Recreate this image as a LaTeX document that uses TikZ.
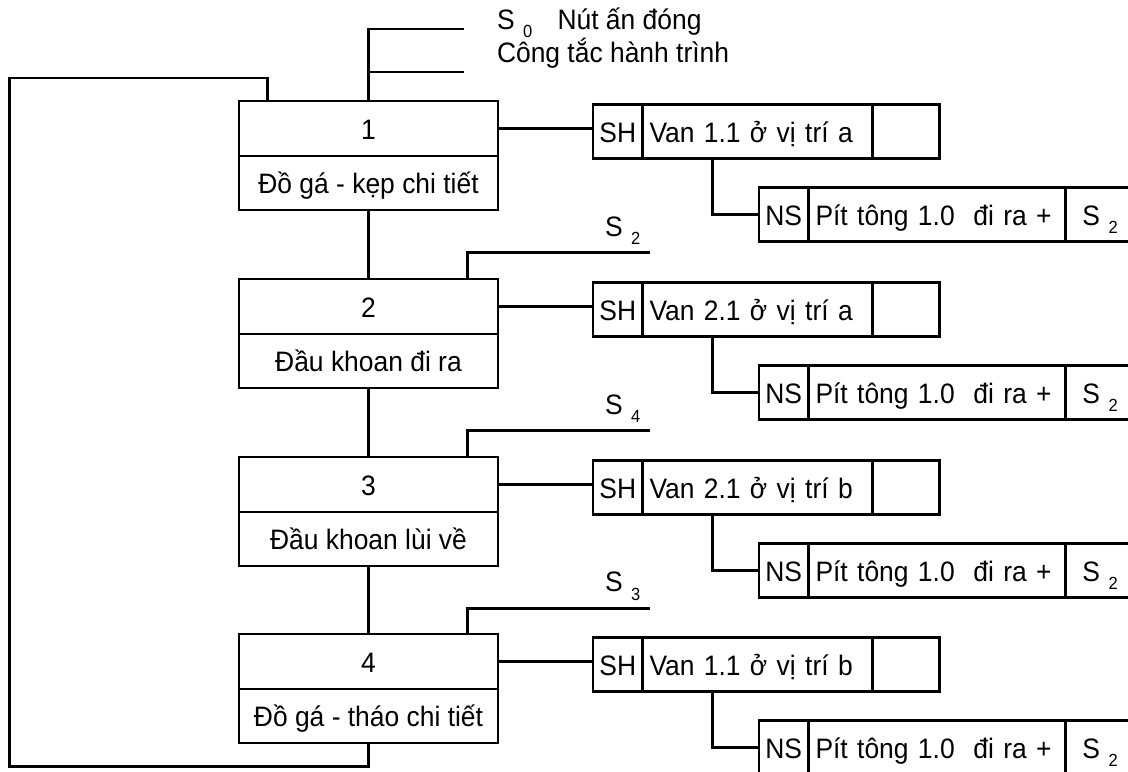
\documentclass[tikz,border=0pt]{standalone}
\usepackage{fontspec}
\setmainfont{Liberation Sans}[FakeStretch=0.94]
\usetikzlibrary{positioning}
\newcommand{\sens}[1]{S\kern0.3em\raisebox{-0.6ex}[0pt][0pt]{\fontsize{10}{11}\selectfont #1}}

\begin{document}
\begin{tikzpicture}[
  x=0.02cm, y=-0.02cm,
  font=\fontsize{16}{18}\selectfont,
  every node/.style={text height=13pt, text depth=1pt, outer sep=0pt},
  wire/.style={line width=1.3pt},
  loopwire/.style={line width=1.7pt},
  numbox/.style={draw, line width=1.6pt, minimum width=5.18cm, minimum height=1.1cm, inner sep=0, anchor=north},
  namebox/.style={draw, line width=1.6pt, minimum width=5.18cm, minimum height=1.08cm, inner sep=0, anchor=north},
  tagcell/.style={draw, line width=1.4pt, minimum width=0.99cm, minimum height=1.08cm, inner sep=0},
  actcell/.style={draw, line width=1.4pt, minimum height=1.08cm, text width=#1, inner xsep=0.14cm, inner ysep=0, align=left},
  endcell/.style={draw, line width=1.4pt, minimum width=#1, minimum height=1.08cm, inner sep=0},
  senslabel/.style={anchor=base west, inner sep=0}
]
  \useasboundingbox (0,0) rectangle (1128,771);
  \clip (0,0) rectangle (1128,771);

  % Step 1
  \node[numbox] (s1) at (368.5,101) {1};
  \node[namebox, below=0pt of s1] (d1) {Đồ gá - kẹp chi tiết};
  \node[tagcell, anchor=west] (sh1) at (593,131.5) {SH};
  \node[actcell=4.32cm, right=0pt of sh1] (v1) {Van 1.1 ở vị trí a};
  \node[endcell=1.34cm, right=0pt of v1] (e1) {};
  \node[tagcell, anchor=west] (ns1) at (759,214.5) {NS};
  \node[actcell=4.86cm, right=0pt of ns1] (p1) {Pít tông 1.0\ \ đi ra +};
  \node[actcell=1cm, inner xsep=0.34cm, right=0pt of p1] (r1) {\sens{2}};
  \draw[wire] (s1.east) -- (sh1.west |- s1.east);
  \draw[wire] ([xshift=1.4cm]v1.south west) |- (ns1.west);
  \coordinate (k0) at (464,29);
  \coordinate (k1) at (464,72);
  \draw[wire] (s1.north) |- (k0);
  \draw[wire] (s1.north |- k1) -- (k1);
  \node[senslabel] (l0) at (497,29) {\sens{0}\hspace{0.9em}Nút ấn đóng};
  \node[senslabel] (l1) at (497,62) {Công tắc hành trình};

  % Step 2
  \node[numbox] (s2) at (368.5,279) {2};
  \node[namebox, below=0pt of s2] (d2) {Đầu khoan đi ra};
  \node[tagcell, anchor=west] (sh2) at (593,309.5) {SH};
  \node[actcell=4.32cm, right=0pt of sh2] (v2) {Van 2.1 ở vị trí a};
  \node[endcell=1.34cm, right=0pt of v2] (e2) {};
  \node[tagcell, anchor=west] (ns2) at (759,392.5) {NS};
  \node[actcell=4.86cm, right=0pt of ns2] (p2) {Pít tông 1.0\ \ đi ra +};
  \node[actcell=1cm, inner xsep=0.34cm, right=0pt of p2] (r2) {\sens{2}};
  \draw[wire] (d1.south) -- (s2.north);
  \draw[wire] (s2.east) -- (sh2.west |- s2.east);
  \draw[wire] ([xshift=1.4cm]v2.south west) |- (ns2.west);
  \coordinate (k2) at (650,252.5);
  \draw[wire] ([xshift=1.98cm]s2.north) |- (k2);
  \node[senslabel] (l2) at (605,236) {\sens{2}};

  % Step 3
  \node[numbox] (s3) at (368.5,457) {3};
  \node[namebox, below=0pt of s3] (d3) {Đầu khoan lùi về};
  \node[tagcell, anchor=west] (sh3) at (593,487.5) {SH};
  \node[actcell=4.32cm, right=0pt of sh3] (v3) {Van 2.1 ở vị trí b};
  \node[endcell=1.34cm, right=0pt of v3] (e3) {};
  \node[tagcell, anchor=west] (ns3) at (759,570.5) {NS};
  \node[actcell=4.86cm, right=0pt of ns3] (p3) {Pít tông 1.0\ \ đi ra +};
  \node[actcell=1cm, inner xsep=0.34cm, right=0pt of p3] (r3) {\sens{2}};
  \draw[wire] (d2.south) -- (s3.north);
  \draw[wire] (s3.east) -- (sh3.west |- s3.east);
  \draw[wire] ([xshift=1.4cm]v3.south west) |- (ns3.west);
  \coordinate (k3) at (650,430.5);
  \draw[wire] ([xshift=1.98cm]s3.north) |- (k3);
  \node[senslabel] (l3) at (605,414) {\sens{4}};

  % Step 4
  \node[numbox] (s4) at (368.5,634) {4};
  \node[namebox, below=0pt of s4] (d4) {Đồ gá - tháo chi tiết};
  \node[tagcell, anchor=west] (sh4) at (593,664.5) {SH};
  \node[actcell=4.32cm, right=0pt of sh4] (v4) {Van 1.1 ở vị trí b};
  \node[endcell=1.34cm, right=0pt of v4] (e4) {};
  \node[tagcell, anchor=west] (ns4) at (759,747.5) {NS};
  \node[actcell=4.86cm, right=0pt of ns4] (p4) {Pít tông 1.0\ \ đi ra +};
  \node[actcell=1cm, inner xsep=0.34cm, right=0pt of p4] (r4) {\sens{2}};
  \draw[wire] (d3.south) -- (s4.north);
  \draw[loopwire] (s4.east) -- (sh4.west |- s4.east);
  \draw[wire] ([xshift=1.4cm]v4.south west) |- (ns4.west);
  \coordinate (k4) at (650,608);
  \draw[loopwire] ([xshift=1.98cm]s4.north) |- (k4);
  \node[senslabel] (l4) at (605,591.5) {\sens{3}};

  % Back to step 1
  \coordinate (tl) at (9.5,78);
  \coordinate (bl) at (9.5,766);
  \draw[loopwire] ([xshift=-2.03cm]s1.north) |- (tl) -- (bl) -| (d4.south);
\end{tikzpicture}
\end{document}
